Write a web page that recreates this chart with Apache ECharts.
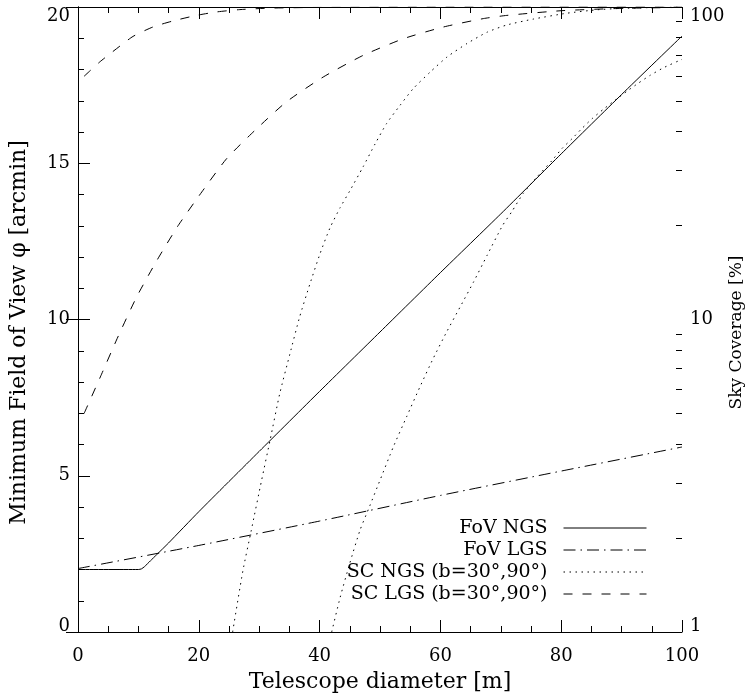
<!DOCTYPE html>
<html>
<head>
<meta charset="utf-8">
<script src="https://cdn.jsdelivr.net/npm/echarts@6/dist/echarts.min.js"></script>
<style>
html, body { margin: 0; padding: 0; background: #ffffff; }
#chart { width: 748px; height: 696px; }
</style>
</head>
<body>
<div id="chart"></div>
<script>
// ---------- data ----------
const seriesNames = ['FoV NGS', 'FoV LGS', 'SC NGS (b=30°,90°)', 'SC LGS (b=30°,90°)'];
const xTickValues = [0, 20, 40, 60, 80, 100];
const leftTickValues = [0, 5, 10, 15, 20];
const rightTickValues = [1, 10, 100];
const rightMinorTickValues = [2, 3, 4, 5, 6, 7, 8, 9, 20, 30, 40, 50, 60, 70, 80, 90];

// FoV NGS (arcmin, left axis)
const fovNgsD   = [0, 10, 10.5, 11, 12, 13, 15, 20, 30, 40, 50, 60, 70, 80, 90, 100];
const fovNgsPhi = [2.0, 2.0, 2.02, 2.09, 2.28, 2.47, 2.85, 3.85, 5.78, 7.7, 9.6, 11.5, 13.38, 15.3, 17.2, 19.07];

// FoV LGS (arcmin, left axis)
const fovLgsD   = [0, 20, 40, 60, 80, 100];
const fovLgsPhi = [2.03, 2.77, 3.55, 4.37, 5.15, 5.92];

// SC NGS, b=30 deg (sky coverage %, right axis)
const scNgs30D  = [25.6, 27.3, 28.7, 30.4, 31.8, 33.4, 35.1, 36.7, 38.4, 40.1, 41.7, 43.4, 45.0, 47.2, 49.2, 51.1, 53.3, 55.5, 58.3, 61.1, 64.4, 67.7, 71.0, 75.4, 80.9, 86.0, 90.0, 95.0, 100];
const scNgs30SC = [1.0, 1.57, 2.12, 3.06, 4.11, 5.79, 7.78, 10.2, 13.0, 16.3, 19.6, 22.8, 25.8, 30.8, 36.5, 42.4, 48.4, 54.8, 61.9, 69.2, 76.4, 83.0, 87.6, 91.5, 95.5, 98.0, 99.0, 99.6, 99.9];

// SC NGS, b=90 deg
const scNgs90D  = [42.0, 43.4, 45.0, 46.7, 48.3, 50.0, 52.2, 54.4, 56.6, 58.8, 61.0, 63.3, 65.5, 67.7, 70.3, 71.8, 73.7, 76.0, 78.5, 80.1, 81.8, 83.4, 85.1, 87.0, 88.9, 90.9, 92.8, 94.7, 97.0, 100];
const scNgs90SC = [1.0, 1.29, 1.66, 2.12, 2.53, 3.06, 3.91, 4.88, 6.08, 7.5, 9.1, 11.0, 13.2, 16.0, 20.0, 22.1, 25.3, 28.6, 32.3, 35.2, 37.9, 40.8, 43.9, 47.1, 50.3, 53.8, 57.1, 60.4, 64.0, 68.0];

// SC LGS, b=30 deg
const scLgs30D  = [1.0, 3.6, 6.4, 9.1, 12.4, 15.7, 19.6, 22.9, 26.8, 32, 40, 60, 100];
const scLgs30SC = [60.0, 66.7, 73.6, 80.5, 86.3, 90.2, 94.0, 96.4, 98.1, 99.2, 99.7, 99.95, 100];

// SC LGS, b=90 deg
const scLgs90D  = [1.0, 3.7, 6.6, 9.7, 13.1, 16.6, 20.5, 24.6, 29.3, 34.5, 40.6, 47.2, 53.9, 60.5, 67.1, 71.0, 80, 90, 100];
const scLgs90SC = [5.0, 6.55, 8.79, 11.8, 15.5, 20.0, 25.6, 32.7, 40.3, 49.7, 59.7, 70.0, 79.2, 86.3, 91.8, 94.0, 97.3, 99.0, 99.7];

// ---------- helpers ----------
function pairs(xs, ys) { return xs.map((x, i) => [x, ys[i]]); }

const FONT = 'DejaVu Serif';
const BLACK = '#000000';
const DASH_DOT = [12, 5, 1.5, 5];
const DOTTED = [1.5, 4.5];
const DASHED = [9, 10];

function lineSeries(name, data, yIdx, dash, z) {
  return {
    type: 'line', name: name, data: data,
    xAxisIndex: 0, yAxisIndex: yIdx,
    showSymbol: false, symbol: 'none', smooth: 0.2,
    lineStyle: { color: BLACK, width: 1, type: dash },
    itemStyle: { color: BLACK },
    z: z || 2
  };
}

const axisLine = { show: true, lineStyle: { color: BLACK, width: 1 } };
const majorTick = { show: true, inside: true, length: 12, lineStyle: { color: BLACK, width: 1 } };
const minorTickX = { show: true, splitNumber: 4, length: 6, lineStyle: { color: BLACK, width: 1 } };
const minorTickY = { show: true, splitNumber: 5, length: 6, lineStyle: { color: BLACK, width: 1 } };
const labelStyle = { fontFamily: FONT, fontSize: 18, color: BLACK };
const endLabelRich = {
  top: { fontFamily: FONT, fontSize: 18, color: BLACK, padding: [18, 0, 0, 0] },
  bot: { fontFamily: FONT, fontSize: 18, color: BLACK, padding: [0, 0, 11, 0] }
};
function endLabels(minV, maxV) {
  return function (v) {
    if (v === maxV) return '{top|' + v + '}';
    if (v === minV) return '{bot|' + v + '}';
    return String(v);
  };
}

const chart = echarts.init(document.getElementById('chart'), null, { renderer: 'canvas' });
chart.setOption({
  animation: false,
  backgroundColor: '#ffffff',
  grid: { left: 78, right: 66, top: 7, bottom: 64, containLabel: false, outerBoundsMode: 'none' },
  legend: {
    orient: 'vertical',
    right: 101, top: 518,
    padding: 0,
    align: 'right',
    itemWidth: 83, itemHeight: 14, itemGap: 2,
    data: seriesNames,
    itemStyle: { color: 'rgba(0,0,0,0)', borderWidth: 0, opacity: 0 },
    lineStyle: { width: 1 },
    textStyle: { fontFamily: FONT, fontSize: 19, color: BLACK, lineHeight: 20, padding: [0, 11, 0, 0] }
  },
  xAxis: [
    {
      type: 'value', position: 'bottom',
      min: xTickValues[0], max: xTickValues[xTickValues.length - 1], interval: xTickValues[1] - xTickValues[0],
      axisLine: axisLine, axisTick: majorTick, minorTick: minorTickX,
      splitLine: { show: false }, minorSplitLine: { show: false },
      axisLabel: Object.assign({ margin: 15 }, labelStyle),
      name: 'Telescope diameter [m]', nameLocation: 'middle', nameGap: 39, nameMoveOverlap: false,
      nameTextStyle: { fontFamily: FONT, fontSize: 22, color: BLACK }
    },
    {
      type: 'value', position: 'top',
      min: xTickValues[0], max: xTickValues[xTickValues.length - 1], interval: xTickValues[1] - xTickValues[0],
      axisLine: axisLine, axisTick: majorTick, minorTick: minorTickX,
      splitLine: { show: false }, axisLabel: { show: false }
    }
  ],
  yAxis: [
    {
      type: 'value', position: 'left',
      min: leftTickValues[0], max: leftTickValues[leftTickValues.length - 1], interval: leftTickValues[1] - leftTickValues[0],
      axisLine: axisLine, axisTick: majorTick, minorTick: minorTickY,
      splitLine: { show: false }, minorSplitLine: { show: false },
      axisLabel: Object.assign({ margin: 8, rich: endLabelRich,
        formatter: endLabels(leftTickValues[0], leftTickValues[leftTickValues.length - 1]) }, labelStyle),
      name: 'Minimum Field of View φ [arcmin]', nameLocation: 'middle', nameGap: 48, nameMoveOverlap: false,
      nameTextStyle: { fontFamily: FONT, fontSize: 22, color: BLACK, padding: [0, 26, 0, 0] }
    },
    {
      type: 'log', logBase: 10, position: 'right',
      min: rightTickValues[0], max: rightTickValues[rightTickValues.length - 1],
      axisLine: axisLine,
      axisTick: Object.assign({ customValues: rightTickValues }, majorTick),
      splitLine: { show: false },
      axisLabel: Object.assign({ margin: 8, customValues: rightTickValues, rich: endLabelRich,
        formatter: endLabels(rightTickValues[0], rightTickValues[rightTickValues.length - 1]) }, labelStyle),
      name: 'Sky Coverage [%]', nameLocation: 'middle', nameGap: 46, nameMoveOverlap: false,
      nameTextStyle: { fontFamily: FONT, fontSize: 17, color: BLACK, padding: [0, 26, 0, 0] }
    },
    {
      type: 'log', logBase: 10, position: 'right',
      min: rightTickValues[0], max: rightTickValues[rightTickValues.length - 1],
      axisLine: { show: false },
      axisTick: { show: true, inside: true, length: 6, customValues: rightMinorTickValues, lineStyle: { color: BLACK, width: 1 } },
      splitLine: { show: false },
      axisLabel: { show: false }
    }
  ],
  series: [
    lineSeries(seriesNames[0], pairs(fovNgsD, fovNgsPhi), 0, 'solid', 3),
    lineSeries(seriesNames[1], pairs(fovLgsD, fovLgsPhi), 0, DASH_DOT, 3),
    lineSeries(seriesNames[2], pairs(scNgs30D, scNgs30SC), 1, DOTTED),
    lineSeries(seriesNames[2], pairs(scNgs90D, scNgs90SC), 1, DOTTED),
    lineSeries(seriesNames[3], pairs(scLgs30D, scLgs30SC), 1, DASHED),
    lineSeries(seriesNames[3], pairs(scLgs90D, scLgs90SC), 1, DASHED)
  ]
});
</script>
</body>
</html>
